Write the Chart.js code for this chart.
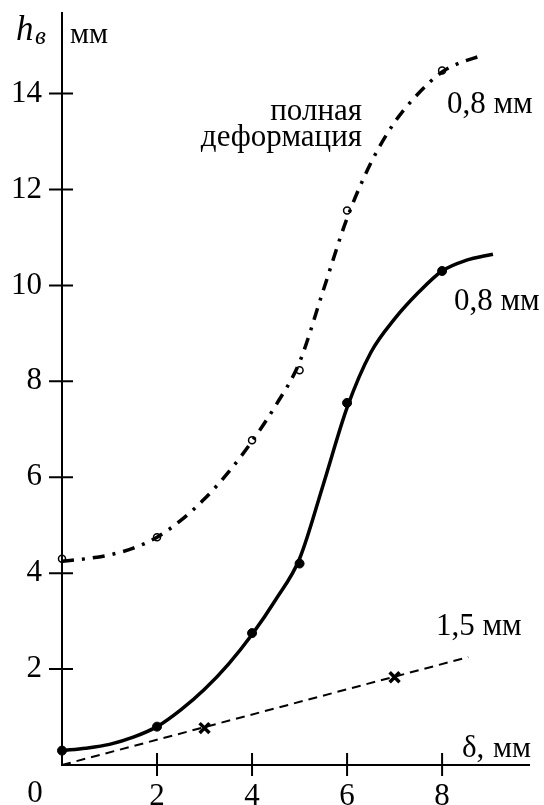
<!DOCTYPE html>
<html>
<head>
<meta charset="utf-8">
<script src="https://cdn.jsdelivr.net/npm/chart.js@4.4.1/dist/chart.umd.min.js"></script>
<style>
html,body{margin:0;padding:0;background:#fff;}
#wrap{width:544px;height:805px;position:relative;}
</style>
</head>
<body>
<div id="wrap"><canvas id="c" width="544" height="805"></canvas></div>
<script>
// ---- data ----
const xTicks = [2, 4, 6, 8];
const yTicks = [2, 4, 6, 8, 10, 12, 14];

// full deformation, 0.8 mm: measured points (open circles)
const fullX = [0, 2, 4, 5, 6, 8];
const fullY = [4.3, 4.75, 6.77, 8.23, 11.56, 14.48];
// dash-dot curve
const fullCurveX = [0, 0.5, 1, 1.5, 2, 2.5, 3, 3.5, 4, 4.5, 5, 5.5, 6, 6.5, 7, 7.5, 8, 8.4, 8.8];
const fullCurveY = [4.25, 4.3, 4.38, 4.52, 4.75, 5.1, 5.55, 6.1, 6.75, 7.5, 8.4, 9.9, 11.4, 12.55, 13.4, 14.0, 14.45, 14.65, 14.78];

// 0.8 mm: measured points (filled dots)
const solidX = [0, 2, 4, 5, 6, 8];
const solidY = [0.3, 0.8, 2.75, 4.2, 7.55, 10.3];
// solid curve
const solidCurveX = [0, 0.5, 1, 1.5, 2, 2.5, 3, 3.5, 4, 4.5, 5, 5.5, 6, 6.5, 7, 7.5, 8, 8.5, 9.07];
const solidCurveY = [0.3, 0.35, 0.43, 0.58, 0.8, 1.15, 1.58, 2.1, 2.72, 3.45, 4.3, 5.85, 7.45, 8.6, 9.3, 9.85, 10.3, 10.52, 10.65];

// 1.5 mm: measured points (crosses) and dashed line
const thickX = [3, 7];
const thickY = [0.77, 1.83];
const thickLineX = [0, 8.55];
const thickLineY = [0, 2.25];

const pts = (xs, ys) => xs.map((x, i) => ({x: x, y: ys[i]}));

const SERIF = '"Liberation Serif", "DejaVu Serif", serif';

const decor = {
  id: 'decor',
  afterDraw(chart) {
    const ctx = chart.ctx;
    const xs = chart.scales.x, ys = chart.scales.y;
    const x0 = xs.getPixelForValue(0), y0 = ys.getPixelForValue(0);
    ctx.save();
    ctx.strokeStyle = '#000';
    ctx.lineWidth = 2;
    ctx.lineCap = 'butt';
    // axes
    ctx.beginPath();
    ctx.moveTo(x0, ys.top); ctx.lineTo(x0, y0 + 1);
    ctx.moveTo(x0 - 1, y0); ctx.lineTo(xs.right, y0);
    ctx.stroke();
    // crossing tick marks
    ctx.beginPath();
    yTicks.forEach(v => { const p = ys.getPixelForValue(v); ctx.moveTo(x0 - 13, p); ctx.lineTo(x0 + 11, p); });
    xTicks.forEach(v => { const p = xs.getPixelForValue(v); ctx.moveTo(p, y0 - 12); ctx.lineTo(p, y0 + 11); });
    ctx.stroke();
    // texts
    ctx.fillStyle = '#000';
    ctx.textBaseline = 'alphabetic';
    ctx.font = '31px ' + SERIF;
    ctx.textAlign = 'center';
    ctx.fillText('0', 35, 802);
    // y axis title
    ctx.textAlign = 'left';
    ctx.font = 'italic 35px ' + SERIF;
    ctx.fillText('h', 16, 40);
    ctx.font = 'italic 25px ' + SERIF;
    ctx.fillText('в', 35, 44);
    ctx.font = '30px ' + SERIF;
    ctx.fillText('мм', 70, 43);
    // x axis title
    ctx.font = '31px ' + SERIF;
    ctx.fillText('δ,', 462, 757);
    ctx.font = '30px ' + SERIF;
    ctx.fillText('мм', 493, 757);
    // annotations
    ctx.font = '31px ' + SERIF;
    ctx.textAlign = 'right';
    ctx.fillText('полная', 362, 120);
    ctx.fillText('деформация', 362, 146);
    ctx.textAlign = 'left';
    ctx.fillText('0,8 мм', 447, 113);
    ctx.fillText('0,8 мм', 454, 310);
    ctx.fillText('1,5 мм', 436, 635);
    ctx.restore();
  }
};

new Chart(document.getElementById('c'), {
  type: 'scatter',
  data: {
    datasets: [
      { data: pts(fullCurveX, fullCurveY), showLine: true, cubicInterpolationMode: 'monotone',
        borderColor: '#000', borderWidth: 3.5, borderDash: [12, 8, 3, 8], pointRadius: 0, fill: false },
      { data: pts(solidCurveX, solidCurveY), showLine: true, cubicInterpolationMode: 'monotone',
        borderColor: '#000', borderWidth: 3.5, pointRadius: 0, fill: false },
      { data: pts(thickLineX, thickLineY), showLine: true,
        borderColor: '#000', borderWidth: 2, borderDash: [9, 6], pointRadius: 0, fill: false },
      { data: pts(fullX, fullY), showLine: false, pointStyle: 'circle', pointRadius: 3.5,
        pointBackgroundColor: '#fff', pointBorderColor: '#000', pointBorderWidth: 1.5 },
      { data: pts(solidX, solidY), showLine: false, pointStyle: 'circle', pointRadius: 4.5,
        pointBackgroundColor: '#000', pointBorderColor: '#000', pointBorderWidth: 1 },
      { data: pts(thickX, thickY), showLine: false, pointStyle: 'crossRot', pointRadius: 7,
        pointBorderColor: '#000', pointBorderWidth: 3.5 }
    ]
  },
  options: {
    responsive: false,
    animation: false,
    events: [],
    clip: false,
    layout: { padding: { left: 0, right: 14, top: 12, bottom: 0 } },
    plugins: { legend: { display: false }, tooltip: { enabled: false } },
    scales: {
      x: {
        type: 'linear', min: 0, max: 9.85,
        grid: { display: false, drawTicks: false },
        border: { display: false },
        afterFit(s) { s.height = 40; s.paddingLeft = 0; s.paddingRight = 0; },
        afterBuildTicks(s) { s.ticks = xTicks.map(v => ({ value: v })); },
        ticks: { padding: 13, color: '#000', font: { family: SERIF, size: 31 }, maxRotation: 0, autoSkip: false }
      },
      y: {
        type: 'linear', min: 0, max: 15.7,
        grid: { display: false, drawTicks: false },
        border: { display: false },
        afterFit(s) { s.width = 62; s.paddingTop = 0; s.paddingBottom = 0; },
        afterBuildTicks(s) { s.ticks = yTicks.map(v => ({ value: v })); },
        ticks: { padding: 20, color: '#000', font: { family: SERIF, size: 31 }, autoSkip: false }
      }
    }
  },
  plugins: [decor]
});
</script>
</body>
</html>
